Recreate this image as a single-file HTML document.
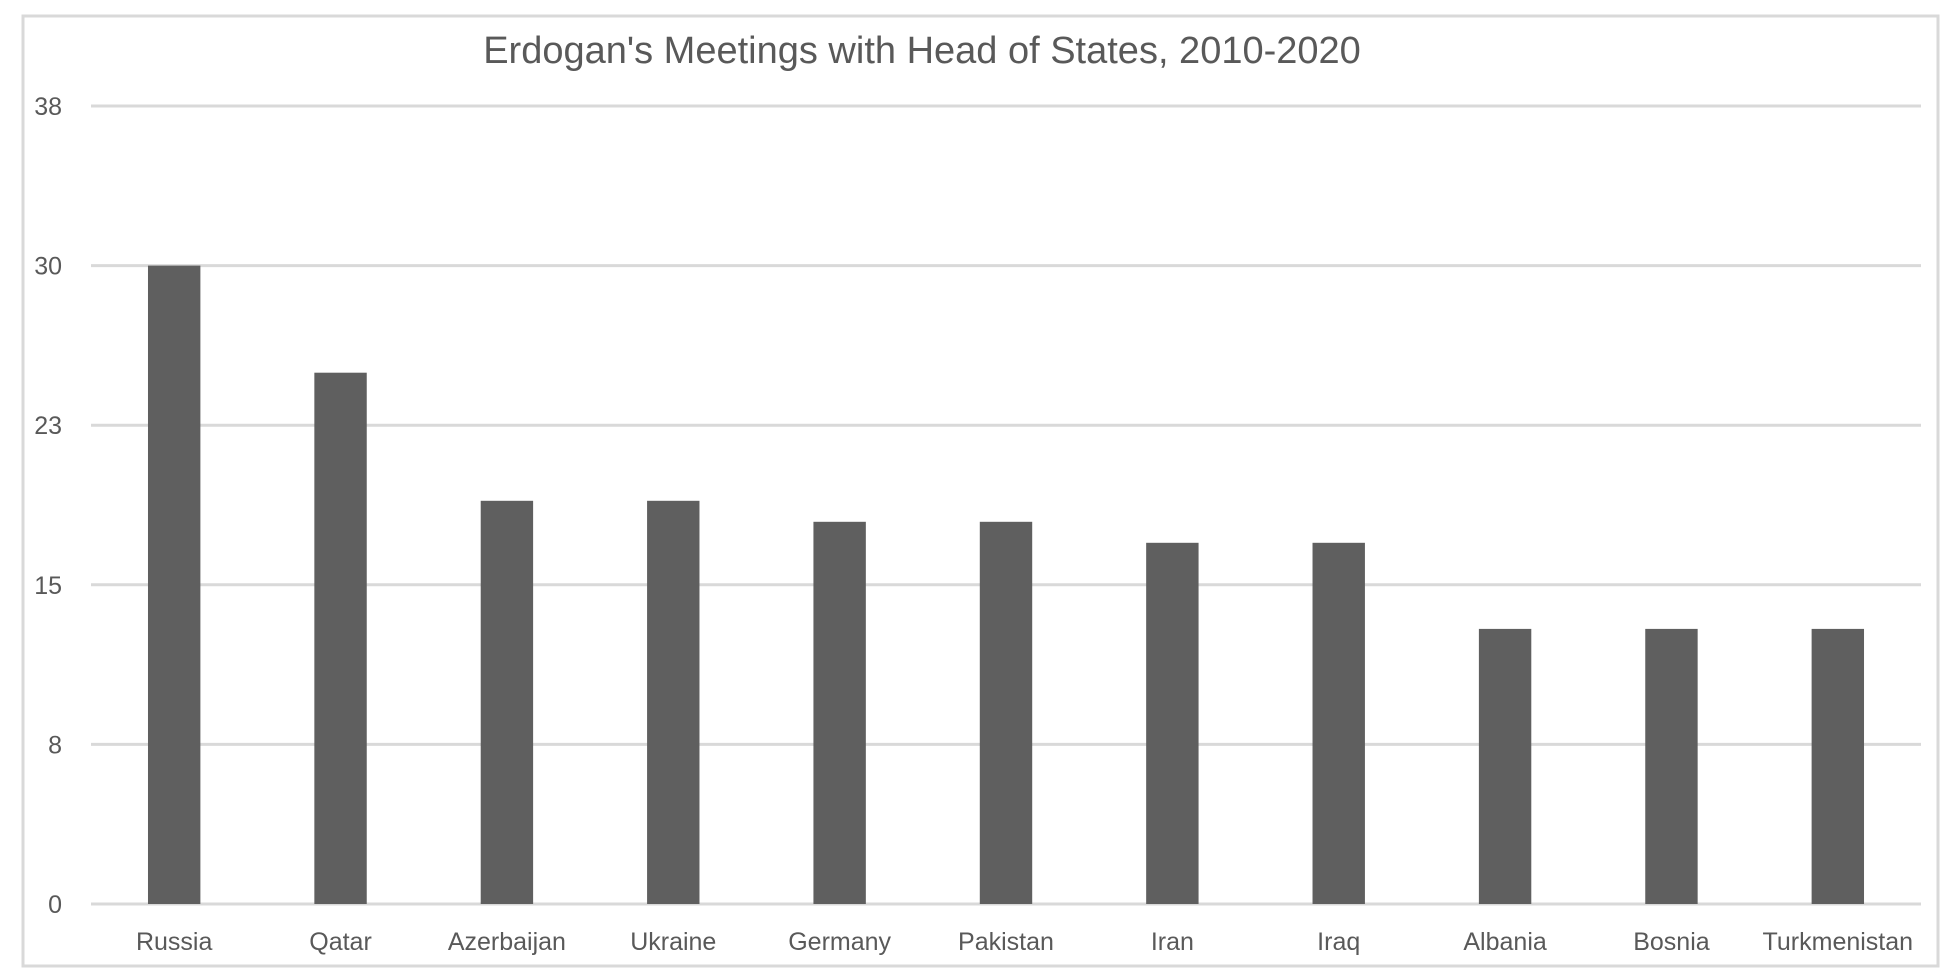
<!DOCTYPE html>
<html><head><meta charset="utf-8">
<style>
html,body{margin:0;padding:0;background:#fff;}
svg{display:block;font-family:"Liberation Sans",sans-serif;}
</style></head>
<body>
<svg id="chart" width="1958" height="976" viewBox="0 0 1958 976">
  <rect x="23" y="16" width="1915" height="950" fill="#fff" stroke="#d9d9d9" stroke-width="3"/>
  <text x="922" y="63" text-anchor="middle" font-size="38" fill="#595959">Erdogan's Meetings with Head of States, 2010-2020</text>
  <g id="grid"></g>
  <g id="bars"></g>
  <g id="xlabels"></g>
  <g id="ylabels"></g>
</svg>
<script>
const categories = ["Russia","Qatar","Azerbaijan","Ukraine","Germany","Pakistan","Iran","Iraq","Albania","Bosnia","Turkmenistan"];
const values = [30.4,25.3,19.2,19.2,18.2,18.2,17.2,17.2,13.1,13.1,13.1];
const tickValues = [0,7.6,15.2,22.8,30.4,38];
const tickLabels = ["0","8","15","23","30","38"];
const yMax = 38;

const NS="http://www.w3.org/2000/svg";
const plotL=91, plotR=1921, plotT=106, plotB=904;
const y = v => plotB - (v/yMax)*(plotB-plotT);
const band = (plotR-plotL)/categories.length;
const xc = i => plotL + band*(i+0.5);
const barW = band*0.315;

const grid=document.getElementById('grid');
const yl=document.getElementById('ylabels');
tickValues.forEach((t,i)=>{
  const l=document.createElementNS(NS,'line');
  l.setAttribute('x1',plotL);l.setAttribute('x2',plotR);
  l.setAttribute('y1',y(t));l.setAttribute('y2',y(t));
  l.setAttribute('stroke','#d9d9d9');l.setAttribute('stroke-width','3');
  
  
  grid.appendChild(l);
  const tx=document.createElementNS(NS,'text');
  tx.setAttribute('x',62);tx.setAttribute('y',y(t)+9);
  tx.setAttribute('text-anchor','end');tx.setAttribute('font-size','25');
  tx.setAttribute('fill','#595959');
  tx.textContent=tickLabels[i];
  
  
  yl.appendChild(tx);
});
const bars=document.getElementById('bars');
const xl=document.getElementById('xlabels');
categories.forEach((c,i)=>{
  const r=document.createElementNS(NS,'rect');
  r.setAttribute('x',xc(i)-barW/2);r.setAttribute('width',barW);
  r.setAttribute('y',y(values[i]));r.setAttribute('height',y(0)-y(values[i]));
  r.setAttribute('fill','#5f5f5f');
  
  
  bars.appendChild(r);
  const tx=document.createElementNS(NS,'text');
  tx.setAttribute('x',xc(i));tx.setAttribute('y',950);
  tx.setAttribute('text-anchor','middle');tx.setAttribute('font-size','25');
  tx.setAttribute('fill','#595959');
  tx.textContent=c;
  
  
  xl.appendChild(tx);
});
</script>
</body></html>
